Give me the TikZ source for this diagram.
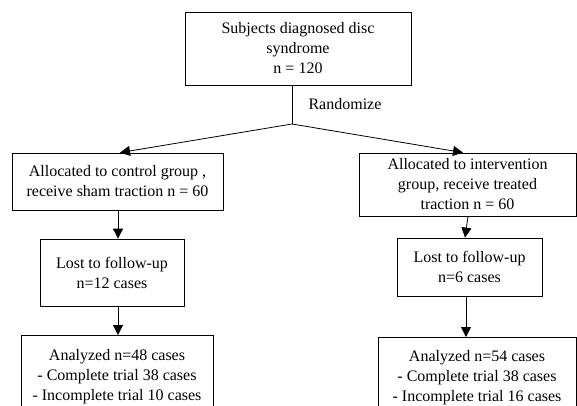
\documentclass[tikz,border=0pt]{standalone}
\usepackage{fontspec}
\setmainfont{Liberation Serif}
\usetikzlibrary{arrows.meta}
\begin{document}
\begin{tikzpicture}[x=1pt,y=-1pt,
  box/.style={draw,line width=0.8pt,align=center,inner sep=0pt,
    font=\fontsize{16}{20}\selectfont},
  arr/.style={line width=0.8pt,-{Triangle[width=10pt,length=10pt]}},
  ln/.style={line width=0.8pt}]
\useasboundingbox (0,0) rectangle (577,406);
\clip (0,0) rectangle (577,406);
\fill[white] (0,0) rectangle (577,406);
\node[box,minimum width=226,minimum height=73] (top) at (298,48.5)
  {Subjects diagnosed disc\\ syndrome\\ n = 120};
\coordinate (j) at (292,124);
\node[font=\fontsize{16}{18}\selectfont,anchor=west] (rand) at (305,104) {Randomize};
\node[box,minimum width=211,minimum height=57] (la) at (117.5,181.5)
  {Allocated to control group ,\\ receive sham traction n = 60};
\node[box,minimum width=217,minimum height=63] (ra) at (467.5,184.5)
  {\raisebox{-5pt}{\parbox{200pt}{\centering Allocated to intervention\\ group, receive treated\\ traction n = 60}}};
\node[box,minimum width=144,minimum height=67] (ll) at (112,272.5)
  {\raisebox{7pt}{\parbox{140pt}{\centering Lost to follow-up\\ n=12 cases}}};
\node[box,minimum width=145,minimum height=58] (rl) at (469.5,267)
  {Lost to follow-up\\ n=6 cases};
\node[box,minimum width=192,minimum height=82,anchor=north] (lan) at (117,335)
  {\raisebox{8pt}{\parbox{190pt}{\centering Analyzed n=48 cases\\ - Complete trial 38 cases\\ - Incomplete trial 10 cases}}};
\node[box,minimum width=198,minimum height=80,anchor=north] (ran) at (477,337)
  {\raisebox{8pt}{\parbox{196pt}{\centering Analyzed n=54 cases\\ - Complete trial 38 cases\\ - Incomplete trial 16 cases}}};
\draw[ln] (top.south -| j) -- (j);
\draw[arr] (j) -- ([xshift=2.5]la.north);
\draw[arr] (j) -- ([xshift=-4.5]ra.north);
\draw[arr] ([xshift=0.5]la.south) -- ([xshift=6]ll.north);
\draw[arr] ([xshift=0.5]ra.south) -- ([xshift=-4.5]rl.north);
\draw[arr] ([xshift=6]ll.south) -- ([xshift=1]lan.north);
\draw[arr] ([xshift=-3.5]rl.south) -- ([xshift=-11]ran.north);
\end{tikzpicture}
\end{document}
